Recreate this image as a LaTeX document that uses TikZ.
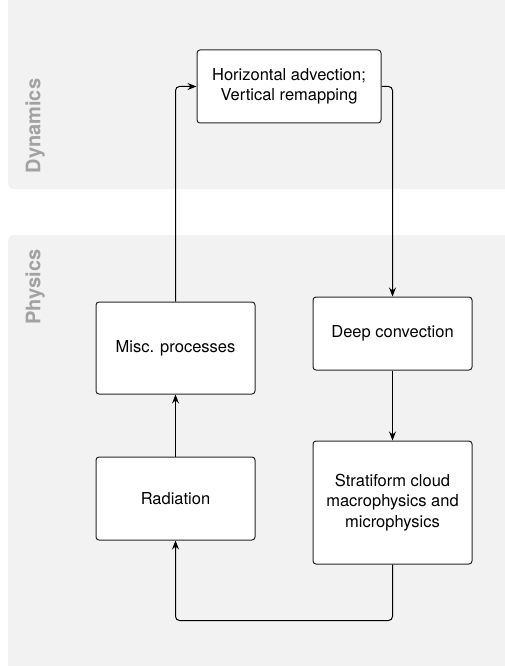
\documentclass[tikz,border=0pt]{standalone}
\usepackage{fontspec}
\setmainfont{TeX Gyre Heros}
\usetikzlibrary{arrows.meta}
\definecolor{lanegray}{HTML}{F2F2F2}
\definecolor{labelgray}{HTML}{A2A2A2}

\begin{document}
\begin{tikzpicture}[x=1pt,y=-1pt,
    proc/.style={draw=black!85,line width=1pt,fill=white,rounded corners=3pt,minimum width=159pt,align=center,font=\fontsize{16.5}{20.5}\selectfont},
    flow/.style={line width=1pt,-{Stealth[length=9pt,width=7pt,inset=3pt]},rounded corners=4pt},
    lane/.style={fill=lanegray,rounded corners=5pt},
    lanelabel/.style={rotate=90,text=labelgray,font=\fontsize{20}{24}\selectfont\bfseries}]
    \useasboundingbox (0,0) rectangle (504,666);
    \fill[lane] (8,-10) rectangle (520,189);
    \fill[lane] (8,235) rectangle (520,680);
    \node[lanelabel] (dyn) at (35,126) {Dynamics};
    \node[lanelabel] (phys) at (35,287) {Physics};
    \node[proc,minimum width=184pt,minimum height=73pt] (adv) at (289,86.5) {Horizontal advection;\\Vertical remapping};
    \node[proc,minimum height=92pt] (misc) at (175.5,348) {Misc. processes};
    \node[proc,minimum height=73pt] (deep) at (392.5,333.5) {Deep convection};
    \node[proc,minimum height=83pt] (rad) at (175.5,498.5) {Radiation};
    \node[proc,minimum height=123pt] (strat) at (392.5,502.5) {Stratiform cloud\\macrophysics and\\microphysics};
    \draw[flow] (misc.north) |- (adv.west);
    \draw[flow] (adv.east) -| (deep.north);
    \draw[flow] (deep) -- (strat);
    \draw[flow] (strat.south) -- ++(0,56) -| (rad.south);
    \draw[flow] (rad) -- (misc);
\end{tikzpicture}
\end{document}
